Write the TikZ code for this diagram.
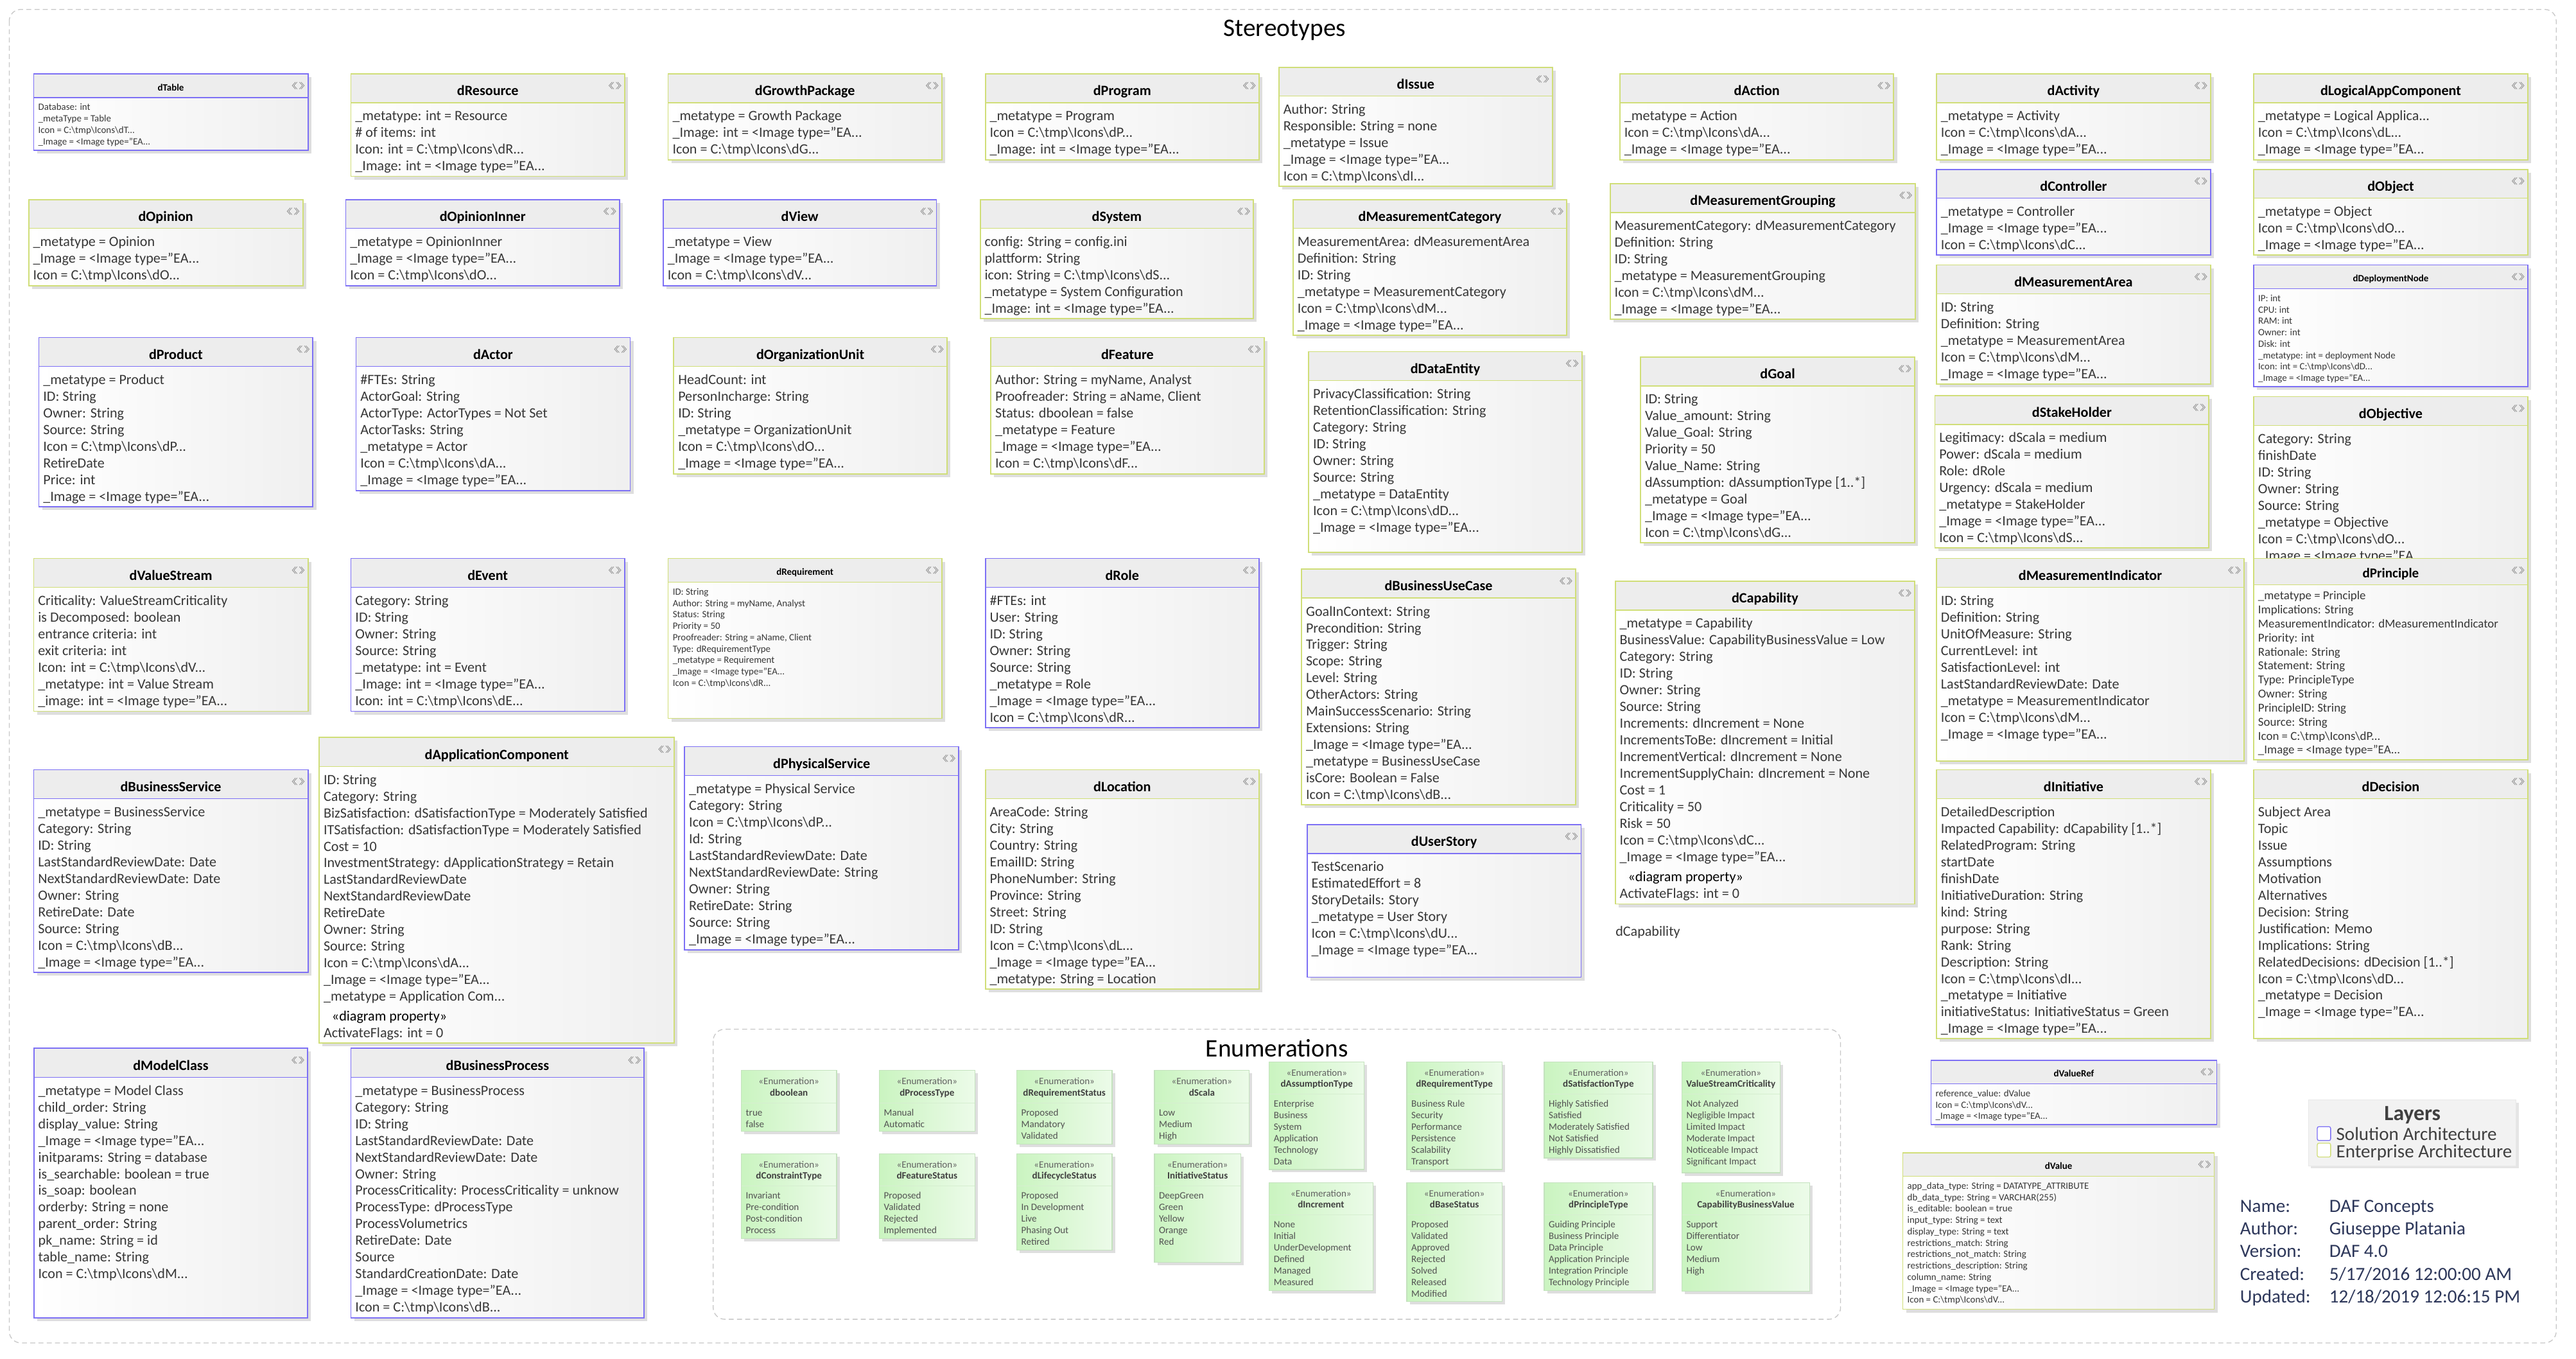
\documentclass[tikz,border=0pt]{standalone}
\usepackage{fontspec}
\setmainfont{Carlito}
\definecolor{sa}{RGB}{125,112,245}
\definecolor{ea}{RGB}{208,222,120}
\definecolor{txt}{RGB}{55,55,55}
\definecolor{enumA}{RGB}{202,244,192}
\definecolor{enumB}{RGB}{236,251,233}
\definecolor{enumborder}{RGB}{196,226,190}
\definecolor{enumline}{RGB}{214,238,208}
\definecolor{notec}{RGB}{45,55,90}
\newcommand\icnpath[1]{C:\textbackslash tmp\textbackslash Icons\textbackslash #1...}
\newcommand\imgval{<Image type="EA...}
\tikzset{
  ttl/.style={font=\bfseries\fontsize{8.6}{10.1}\selectfont, text=black, inner sep=0pt},
  attr/.style={font=\fontsize{8.6}{10.1}\selectfont, text=txt, align=left, inner sep=0pt},
  sttl/.style={font=\bfseries\fontsize{5.8}{6.9}\selectfont, text=black, inner sep=0pt},
  sattr/.style={font=\fontsize{5.8}{6.9}\selectfont, text=txt, align=left, inner sep=0pt},
  pttl/.style={font=\bfseries\fontsize{8.2}{9.5}\selectfont, text=black, inner sep=0pt},
  pattr/.style={font=\fontsize{7.35}{8.49}\selectfont, text=txt, align=left, inner sep=0pt},
  ester/.style={font=\fontsize{5.86}{7}\selectfont, text=black!62, inner sep=0pt},
  ettl/.style={font=\bfseries\fontsize{5.86}{7}\selectfont, text=black!75, inner sep=0pt},
  evals/.style={font=\fontsize{5.86}{7.0}\selectfont, text=black!68, align=left, inner sep=0pt},
  dframe/.style={draw=black!22, dash pattern=on 3pt off 2pt, rounded corners=7pt, line width=0.5pt},
  bigttl/.style={font=\fontsize{15.3}{18}\selectfont, text=black, inner sep=0pt},
  notel/.style={font=\fontsize{11.3}{13.7}\selectfont, text=notec, inner sep=0pt, anchor=base west},
  layt/.style={font=\fontsize{11.3}{13.7}\selectfont, text=black!75, inner sep=0pt, anchor=base west},
  boxshadow/.style={fill=black!13},
}
% collapse icon
\newcommand\colicon[2]{%
  \draw[black!45, line width=0.3pt] (#1-1.7,#2-2.1) -- (#1-3.6,#2) -- (#1-1.7,#2+2.1);
  \draw[black!45, line width=0.3pt] (#1-0.7,#2-2.1) -- (#1-2.6,#2) -- (#1-0.7,#2+2.1);
  \draw[black!45, line width=0.3pt] (#1+1.7,#2-2.1) -- (#1+3.6,#2) -- (#1+1.7,#2+2.1);
  \draw[black!45, line width=0.3pt] (#1+0.7,#2-2.1) -- (#1+2.6,#2) -- (#1+0.7,#2+2.1);
}
% standard stereotype box
\newcommand\stbox[8]{%
  \fill[boxshadow] (#3+2,#4+2) rectangle (#5+2,#6+2);
  \shade[left color=white, right color=black!6] (#3,#4) rectangle (#5,#6);
  \fill[black!7] (#3,#4) rectangle (#5,#4+17.5);
  \draw[#2, line width=0.6pt] (#3,#4+17.5) -- (#5,#4+17.5);
  \draw[#2, line width=0.7pt] (#3,#4) rectangle (#5,#6);
  \colicon{#5-5.9}{#4+7.1}
  \node[ttl, anchor=base] (#1) at ({(#3+#5)/2},#4+13.1) {#7};
  \node[attr, anchor=north west] (#1-a) at (#3+2.5,#4+20.9) {\rule{0pt}{7.2pt}#8};
}
% small-font stereotype box
\newcommand\smbox[8]{%
  \fill[boxshadow] (#3+2,#4+2) rectangle (#5+2,#6+2);
  \shade[left color=white, right color=black!6] (#3,#4) rectangle (#5,#6);
  \fill[black!7] (#3,#4) rectangle (#5,#4+14.3);
  \draw[#2, line width=0.6pt] (#3,#4+14.3) -- (#5,#4+14.3);
  \draw[#2, line width=0.7pt] (#3,#4) rectangle (#5,#6);
  \colicon{#5-5.9}{#4+7.1}
  \node[sttl, anchor=base] (#1) at ({(#3+#5)/2},#4+10.2) {#7};
  \node[sattr, anchor=north west] (#1-a) at (#3+2.6,#4+16.9) {\rule{0pt}{5pt}#8};
}
% principle box
\newcommand\prbox[8]{%
  \fill[boxshadow] (#3+2,#4+2) rectangle (#5+2,#6+2);
  \shade[left color=white, right color=black!6] (#3,#4) rectangle (#5,#6);
  \fill[black!7] (#3,#4) rectangle (#5,#4+15.9);
  \draw[#2, line width=0.6pt] (#3,#4+15.9) -- (#5,#4+15.9);
  \draw[#2, line width=0.7pt] (#3,#4) rectangle (#5,#6);
  \colicon{#5-5.9}{#4+7.1}
  \node[pttl, anchor=base] (#1) at ({(#3+#5)/2},#4+11.8) {#7};
  \node[pattr, anchor=north west] (#1-a) at (#3+2.5,#4+18.55) {\rule{0pt}{6.2pt}#8};
}
% enumeration box
\newcommand\enbox[7]{%
  \fill[boxshadow] (#2+1.8,#3+1.8) rectangle (#4+1.8,#5+1.8);
  \shade[left color=enumA, right color=enumB] (#2,#3) rectangle (#4,#5);
  \draw[enumline, line width=0.5pt] (#2,#3+19.6) -- (#4,#3+19.6);
  \draw[enumborder, line width=0.5pt] (#2,#3) rectangle (#4,#5);
  \node[ester, anchor=base] (#1-s) at ({(#2+#4)/2},#3+8.6) {«Enumeration»};
  \node[ettl, anchor=base] (#1) at ({(#2+#4)/2},#3+15.3) {#6};
  \node[evals, anchor=north west] (#1-a) at (#2+2.6,#3+22.2) {\rule{0pt}{5pt}#7};
}
\begin{document}
\begin{tikzpicture}[x=1pt,y=-1pt]
\fill[white] (0,0) rectangle (1560,822.4);
\useasboundingbox (0,0) rectangle (1560,822.4);
% frames
\draw[dframe] (5.6,5.7) rectangle (1548,813);
\node[bigttl, anchor=base west] (stereo) at (740.7,22.1) {Stereotypes};
\draw[dframe] (431.9,623.1) rectangle (1114.6,798.7);
\node[bigttl, anchor=base west] (enums) at (730.0,640.0) {Enumerations};

% ---- row 1
\smbox{table}{sa}{20.4}{44.7}{186.5}{91.1}{dTable}{Database: int\\\_metaType = Table\\Icon = \icnpath{dT}\\\_Image = \imgval}
\stbox{resource}{ea}{212.5}{44.7}{378.3}{106.7}{dResource}{\_metatype: int = Resource\\\# of items: int\\Icon: int = \icnpath{dR}\\\_Image: int = \imgval}
\stbox{growth}{ea}{404.6}{44.7}{570.4}{96.8}{dGrowthPackage}{\_metatype = Growth Package\\\_Image: int = \imgval\\Icon = \icnpath{dG}}
\stbox{program}{ea}{596.7}{44.7}{762.5}{96.8}{dProgram}{\_metatype = Program\\Icon = \icnpath{dP}\\\_Image: int = \imgval}
\stbox{issue}{ea}{774.5}{40.7}{940.1}{112.8}{dIssue}{Author: String\\Responsible: String = none\\\_metatype = Issue\\\_Image = \imgval\\Icon = \icnpath{dI}}
\stbox{action}{ea}{981.0}{44.7}{1146.8}{96.8}{dAction}{\_metatype = Action\\Icon = \icnpath{dA}\\\_Image = \imgval}
\stbox{activity}{ea}{1172.7}{44.7}{1338.7}{96.8}{dActivity}{\_metatype = Activity\\Icon = \icnpath{dA}\\\_Image = \imgval}
\stbox{logical}{ea}{1364.8}{44.7}{1530.8}{96.8}{dLogicalAppComponent}{\_metatype = Logical Applica...\\Icon = \icnpath{dL}\\\_Image = \imgval}

% ---- row 2
\stbox{controller}{sa}{1172.7}{102.5}{1338.7}{154.5}{dController}{\_metatype = Controller\\\_Image = \imgval\\Icon = \icnpath{dC}}
\stbox{object}{ea}{1364.8}{102.5}{1530.8}{154.5}{dObject}{\_metatype = Object\\Icon = \icnpath{dO}\\\_Image = \imgval}
\stbox{mgroup}{ea}{975.1}{111.1}{1160.0}{193.3}{dMeasurementGrouping}{MeasurementCategory: dMeasurementCategory\\Definition: String\\ID: String\\\_metatype = MeasurementGrouping\\Icon = \icnpath{dM}\\\_Image = \imgval}
\stbox{opinion}{ea}{17.4}{120.8}{183.4}{172.9}{dOpinion}{\_metatype = Opinion\\\_Image = \imgval\\Icon = \icnpath{dO}}
\stbox{opinner}{sa}{209.4}{120.8}{375.2}{172.9}{dOpinionInner}{\_metatype = OpinionInner\\\_Image = \imgval\\Icon = \icnpath{dO}}
\stbox{view}{sa}{401.6}{120.8}{567.1}{172.9}{dView}{\_metatype = View\\\_Image = \imgval\\Icon = \icnpath{dV}}
\stbox{system}{ea}{593.6}{120.8}{759.1}{192.9}{dSystem}{config: String = config.ini\\plattform: String\\icon: String = \icnpath{dS}\\\_metatype = System Configuration\\\_Image: int = \imgval}
\stbox{mcat}{ea}{783.1}{120.8}{948.8}{203.0}{dMeasurementCategory}{MeasurementArea: dMeasurementArea\\Definition: String\\ID: String\\\_metatype = MeasurementCategory\\Icon = \icnpath{dM}\\\_Image = \imgval}
\stbox{marea}{ea}{1172.7}{160.4}{1338.7}{232.5}{dMeasurementArea}{ID: String\\Definition: String\\\_metatype = MeasurementArea\\Icon = \icnpath{dM}\\\_Image = \imgval}
\smbox{deploy}{sa}{1364.8}{160.4}{1530.8}{234.2}{dDeploymentNode}{IP: int\\CPU: int\\RAM: int\\Owner: int\\Disk: int\\\_metatype: int = deployment Node\\Icon: int = \icnpath{dD}\\\_Image = \imgval}

% ---- row 3
\stbox{product}{sa}{23.5}{204.3}{189.5}{306.9}{dProduct}{\_metatype = Product\\ID: String\\Owner: String\\Source: String\\Icon = \icnpath{dP}\\RetireDate\\Price: int\\\_Image = \imgval}
\stbox{actor}{sa}{215.6}{204.3}{381.6}{297.0}{dActor}{\#FTEs: String\\ActorGoal: String\\ActorType: ActorTypes = Not Set\\ActorTasks: String\\\_metatype = Actor\\Icon = \icnpath{dA}\\\_Image = \imgval}
\stbox{orgunit}{ea}{408.0}{204.3}{573.5}{286.9}{dOrganizationUnit}{HeadCount: int\\PersonIncharge: String\\ID: String\\\_metatype = OrganizationUnit\\Icon = \icnpath{dO}\\\_Image = \imgval}
\stbox{feature}{ea}{600.0}{204.3}{765.5}{286.9}{dFeature}{Author: String = myName, Analyst\\Proofreader: String = aName, Client\\Status: dboolean = false\\\_metatype = Feature\\\_Image = \imgval\\Icon = \icnpath{dF}}
\stbox{dataent}{ea}{792.5}{212.9}{958.0}{334.3}{dDataEntity}{PrivacyClassification: String\\RetentionClassification: String\\Category: String\\ID: String\\Owner: String\\Source: String\\\_metatype = DataEntity\\Icon = \icnpath{dD}\\\_Image = \imgval}
\stbox{goal}{ea}{993.5}{216.1}{1159.5}{328.6}{dGoal}{ID: String\\Value\_amount: String\\Value\_Goal: String\\Priority = 50\\Value\_Name: String\\dAssumption: dAssumptionType [1..*]\\\_metatype = Goal\\\_Image = \imgval\\Icon = \icnpath{dG}}
\stbox{stake}{ea}{1171.7}{239.5}{1337.7}{331.7}{dStakeHolder}{Legitimacy: dScala = medium\\Power: dScala = medium\\Role: dRole\\Urgency: dScala = medium\\\_metatype = StakeHolder\\\_Image = \imgval\\Icon = \icnpath{dS}}
\stbox{objective}{ea}{1364.8}{240.1}{1530.8}{342.7}{dObjective}{Category: String\\finishDate\\ID: String\\Owner: String\\Source: String\\\_metatype = Objective\\Icon = \icnpath{dO}\\\_Image = \imgval}

% ---- row 4
\stbox{vstream}{ea}{20.4}{338.1}{186.5}{430.6}{dValueStream}{Criticality: ValueStreamCriticality\\is Decomposed: boolean\\entrance criteria: int\\exit criteria: int\\Icon: int = \icnpath{dV}\\\_metatype: int = Value Stream\\\_image: int = \imgval}
\stbox{event}{sa}{212.5}{338.1}{378.3}{430.6}{dEvent}{Category: String\\ID: String\\Owner: String\\Source: String\\\_metatype: int = Event\\\_Image: int = \imgval\\Icon: int = \icnpath{dE}}
\smbox{req}{ea}{404.6}{338.1}{570.4}{434.9}{dRequirement}{ID: String\\Author: String = myName, Analyst\\Status: String\\Priority = 50\\Proofreader: String = aName, Client\\Type: dRequirementType\\\_metatype = Requirement\\\_Image = \imgval\\Icon = \icnpath{dR}}
\stbox{role}{sa}{596.7}{338.1}{762.5}{440.6}{dRole}{\#FTEs: int\\User: String\\ID: String\\Owner: String\\Source: String\\\_metatype = Role\\\_Image = \imgval\\Icon = \icnpath{dR}}
\stbox{buc}{ea}{788.2}{344.6}{954.2}{487.3}{dBusinessUseCase}{GoalInContext: String\\Precondition: String\\Trigger: String\\Scope: String\\Level: String\\OtherActors: String\\MainSuccessScenario: String\\Extensions: String\\\_Image = \imgval\\\_metatype = BusinessUseCase\\isCore: Boolean = False\\Icon = \icnpath{dB}}
\stbox{capability}{ea}{978.2}{351.9}{1159.5}{547.3}{dCapability}{\_metatype = Capability\\BusinessValue: CapabilityBusinessValue = Low\\Category: String\\ID: String\\Owner: String\\Source: String\\Increments: dIncrement = None\\IncrementsToBe: dIncrement = Initial\\IncrementVertical: dIncrement = None\\IncrementSupplyChain: dIncrement = None\\Cost = 1\\Criticality = 50\\Risk = 50\\Icon = \icnpath{dC}\\\_Image = \imgval}
\node[attr, text=black, anchor=base west] (capability-dp) at (985.7,533.6) {«diagram property»};
\node[attr, anchor=base west] (capability-af) at (980.7,543.6) {ActivateFlags: int = 0};
\node[attr, anchor=base west] (caplabel) at (978.2,566.9) {dCapability};
\stbox{mind}{ea}{1172.7}{338.1}{1359.0}{460.8}{dMeasurementIndicator}{ID: String\\Definition: String\\UnitOfMeasure: String\\CurrentLevel: int\\SatisfactionLevel: int\\LastStandardReviewDate: Date\\\_metatype = MeasurementIndicator\\Icon = \icnpath{dM}\\\_Image = \imgval}
\prbox{principle}{ea}{1364.8}{338.1}{1530.8}{460.0}{dPrinciple}{\_metatype = Principle\\Implications: String\\MeasurementIndicator: dMeasurementIndicator\\Priority: int\\Rationale: String\\Statement: String\\Type: PrincipleType\\Owner: String\\PrincipleID: String\\Source: String\\Icon = \icnpath{dP}\\\_Image = \imgval}

% ---- row 5
\stbox{appcomp}{ea}{193.3}{446.5}{408.4}{631.5}{dApplicationComponent}{ID: String\\Category: String\\BizSatisfaction: dSatisfactionType = Moderately Satisfied\\ITSatisfaction: dSatisfactionType = Moderately Satisfied\\Cost = 10\\InvestmentStrategy: dApplicationStrategy = Retain\\LastStandardReviewDate\\NextStandardReviewDate\\RetireDate\\Owner: String\\Source: String\\Icon = \icnpath{dA}\\\_Image = \imgval\\\_metatype = Application Com...}
\node[attr, text=black, anchor=base west] (appcomp-dp) at (200.8,618.1) {«diagram property»};
\node[attr, anchor=base west] (appcomp-af) at (195.8,628.0) {ActivateFlags: int = 0};
\stbox{physserv}{sa}{414.6}{452.0}{580.6}{575.0}{dPhysicalService}{\_metatype = Physical Service\\Category: String\\Icon = \icnpath{dP}\\Id: String\\LastStandardReviewDate: Date\\NextStandardReviewDate: String\\Owner: String\\RetireDate: String\\Source: String\\\_Image = \imgval}
\stbox{busserv}{sa}{20.4}{466.0}{186.5}{588.7}{dBusinessService}{\_metatype = BusinessService\\Category: String\\ID: String\\LastStandardReviewDate: Date\\NextStandardReviewDate: Date\\Owner: String\\RetireDate: Date\\Source: String\\Icon = \icnpath{dB}\\\_Image = \imgval}
\stbox{location}{ea}{596.7}{466.0}{762.5}{598.8}{dLocation}{AreaCode: String\\City: String\\Country: String\\EmailID: String\\PhoneNumber: String\\Province: String\\Street: String\\ID: String\\Icon = \icnpath{dL}\\\_Image = \imgval\\\_metatype: String = Location}
\stbox{initiative}{ea}{1172.7}{466.0}{1338.7}{628.7}{dInitiative}{DetailedDescription\\Impacted Capability: dCapability [1..*]\\RelatedProgram: String\\startDate\\finishDate\\InitiativeDuration: String\\kind: String\\purpose: String\\Rank: String\\Description: String\\Icon = \icnpath{dI}\\\_metatype = Initiative\\initiativeStatus: InitiativeStatus = Green\\\_Image = \imgval}
\stbox{decision}{ea}{1364.8}{466.0}{1530.8}{628.7}{dDecision}{Subject Area\\Topic\\Issue\\Assumptions\\Motivation\\Alternatives\\Decision: String\\Justification: Memo\\Implications: String\\RelatedDecisions: dDecision [1..*]\\Icon = \icnpath{dD}\\\_metatype = Decision\\\_Image = \imgval}
\stbox{userstory}{sa}{791.5}{499.2}{957.5}{591.6}{dUserStory}{TestScenario\\EstimatedEffort = 8\\StoryDetails: Story\\\_metatype = User Story\\Icon = \icnpath{dU}\\\_Image = \imgval}

% ---- row 6
\stbox{modelclass}{sa}{20.5}{634.7}{186.3}{797.8}{dModelClass}{\_metatype = Model Class\\child\_order: String\\display\_value: String\\\_Image = \imgval\\initparams: String = database\\is\_searchable: boolean = true\\is\_soap: boolean\\orderby: String = none\\parent\_order: String\\pk\_name: String = id\\table\_name: String\\Icon = \icnpath{dM}}
\stbox{busproc}{sa}{212.5}{634.7}{390.1}{797.8}{dBusinessProcess}{\_metatype = BusinessProcess\\Category: String\\ID: String\\LastStandardReviewDate: Date\\NextStandardReviewDate: Date\\Owner: String\\ProcessCriticality: ProcessCriticality = unknow\\ProcessType: dProcessType\\ProcessVolumetrics\\RetireDate: Date\\Source\\StandardCreationDate: Date\\\_Image = \imgval\\Icon = \icnpath{dB}}
\smbox{valueref}{sa}{1169.4}{641.8}{1342.4}{680.9}{dValueRef}{reference\_value: dValue\\Icon = \icnpath{dV}\\\_Image = \imgval}
\smbox{value}{ea}{1152.3}{697.8}{1340.9}{792.6}{dValue}{app\_data\_type: String = DATATYPE\_ATTRIBUTE\\db\_data\_type: String = VARCHAR(255)\\is\_editable: boolean = true\\input\_type: String = text\\display\_type: String = text\\restrictions\_match: String\\restrictions\_not\_match: String\\restrictions\_description: String\\column\_name: String\\\_Image = \imgval\\Icon = \icnpath{dV}}

% ---- enumerations
\enbox{eboolean}{448.9}{648.1}{506.6}{684.8}{dboolean}{true\\false}
\enbox{eproc}{532.5}{648.1}{590.3}{684.8}{dProcessType}{Manual\\Automatic}
\enbox{ereqst}{615.7}{648.1}{673.4}{692.6}{dRequirementStatus}{Proposed\\Mandatory\\Validated}
\enbox{escala}{699.1}{648.1}{756.6}{692.6}{dScala}{Low\\Medium\\High}
\enbox{eassum}{768.6}{642.9}{826.2}{708.0}{dAssumptionType}{Enterprise\\Business\\System\\Application\\Technology\\Data}
\enbox{ereqty}{851.9}{642.9}{909.6}{708.0}{dRequirementType}{Business Rule\\Security\\Performance\\Persistence\\Scalability\\Transport}
\enbox{esatis}{935.1}{642.9}{1000.8}{701.0}{dSatisfactionType}{Highly Satisfied\\Satisfied\\Moderately Satisfied\\Not Satisfied\\Highly Dissatisfied}
\enbox{evsc}{1018.5}{642.9}{1077.9}{710.0}{ValueStreamCriticality}{Not Analyzed\\Negligible Impact\\Limited Impact\\Moderate Impact\\Noticeable Impact\\Significant Impact}
\enbox{econs}{448.9}{698.4}{506.6}{749.9}{dConstraintType}{Invariant\\Pre-condition\\Post-condition\\Process}
\enbox{efeat}{532.5}{698.4}{590.3}{749.9}{dFeatureStatus}{Proposed\\Validated\\Rejected\\Implemented}
\enbox{elife}{615.7}{698.4}{673.4}{756.9}{dLifecycleStatus}{Proposed\\In Development\\Live\\Phasing Out\\Retired}
\enbox{einit}{699.1}{698.4}{751.4}{764.2}{InitiativeStatus}{DeepGreen\\Green\\Yellow\\Orange\\Red}
\enbox{eincr}{768.6}{715.9}{831.4}{781.3}{dIncrement}{None\\Initial\\UnderDevelopment\\Defined\\Managed\\Measured}
\enbox{ebase}{851.9}{715.9}{909.6}{787.9}{dBaseStatus}{Proposed\\Validated\\Approved\\Rejected\\Solved\\Released\\Modified}
\enbox{eprinc}{935.1}{715.9}{1000.8}{781.3}{dPrincipleType}{Guiding Principle\\Business Principle\\Data Principle\\Application Principle\\Integration Principle\\Technology Principle}
\enbox{ecbv}{1018.5}{715.9}{1095.9}{781.6}{CapabilityBusinessValue}{Support\\Differentiator\\Low\\Medium\\High}

% ---- layers legend
\fill[black!10] (1399.5,667.5) rectangle (1525.2,707.4);
\fill[black!5] (1398.0,666.0) rectangle (1523.7,705.9);
\draw[black!9, line width=0.4pt] (1398.0,666.0) rectangle (1523.7,705.9);
\node[font=\bfseries\fontsize{13.1}{15}\selectfont, text=black!75, inner sep=0pt, anchor=base] (layers) at (1460.9,678.5) {Layers};
\draw[sa, fill=white, line width=0.5pt, rounded corners=1pt] (1403.3,682.1) rectangle (1411.4,690.5);
\draw[ea, fill=white, line width=0.5pt, rounded corners=1pt] (1403.3,692.1) rectangle (1411.4,700.5);
\node[layt] (lay-sa) at (1414.6,690.5) {Solution Architecture};
\node[layt] (lay-ea) at (1414.6,701.0) {Enterprise Architecture};

% ---- notes
\node[notel] (n1l) at (1356.4,733.9) {Name:};
\node[notel] (n1v) at (1410.4,733.9) {DAF Concepts};
\node[notel] (n2l) at (1356.4,747.5) {Author:};
\node[notel] (n2v) at (1410.4,747.5) {Giuseppe Platania};
\node[notel] (n3l) at (1356.4,761.2) {Version:};
\node[notel] (n3v) at (1410.4,761.2) {DAF 4.0};
\node[notel] (n4l) at (1356.4,775.0) {Created:};
\node[notel] (n4v) at (1410.4,775.0) {5/17/2016 12:00:00 AM};
\node[notel] (n5l) at (1356.4,788.9) {Updated:};
\node[notel] (n5v) at (1410.4,788.9) {12/18/2019 12:06:15 PM};
\end{tikzpicture}
\end{document}
